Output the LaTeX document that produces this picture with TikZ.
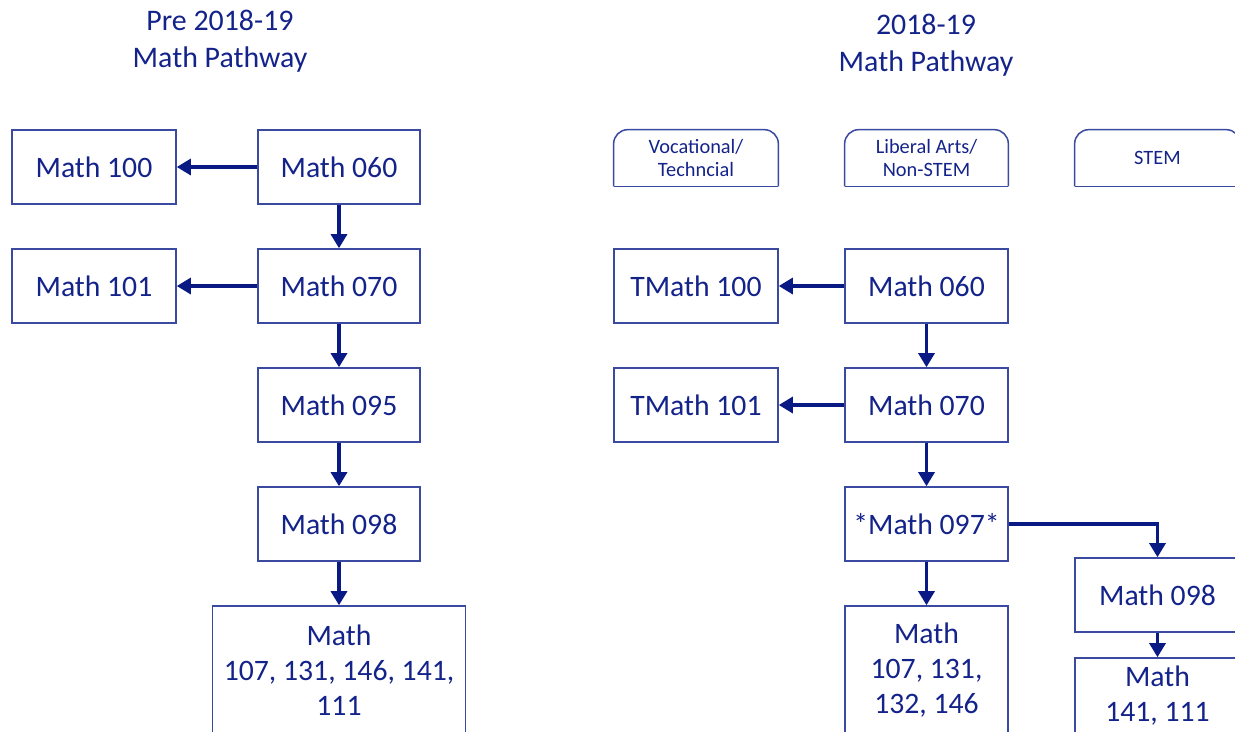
\documentclass[tikz,border=0pt]{standalone}
\usepackage{fontspec}
\setmainfont{Carlito}
\usetikzlibrary{arrows.meta}
\definecolor{txtc}{HTML}{14238A}
\definecolor{boxc}{HTML}{3A4AA0}
\definecolor{arrc}{HTML}{0A1A85}
\tikzset{
  box/.style={draw=boxc, line width=0.85pt, text=txtc, minimum width=3.28cm, minimum height=1.48cm, inner sep=0pt, align=center, font=\fontsize{16.9}{20}\selectfont},
  tabtxt/.style={text=txtc, minimum width=3.28cm, minimum height=1.12cm, inner sep=0pt, align=center, font=\fontsize{11.6}{13.6}\selectfont},
  tabline/.style={draw=boxc, line width=0.85pt},
  ttl/.style={text=txtc, align=center, font=\fontsize{17}{21}\selectfont},
  arr/.style={draw=arrc, line width=2pt, -{Triangle[width=9pt,length=8pt]}}
}
\begin{document}
\begin{tikzpicture}[x=0.02cm,y=-0.02cm]
\useasboundingbox (0,0) rectangle (1235,731);
\clip (0,0) rectangle (1235,731);
% titles
\node[ttl] (tL) at (220,41) {Pre 2018-19\\Math Pathway};
\node[ttl] (tR) at (926,45) {2018-19\\Math Pathway};
% left column
\node[box] (m100L) at (94,167) {Math 100};
\node[box, minimum width=3.24cm] (m060L) at (339,167) {Math 060};
\node[box] (m101L) at (94,286) {Math 101};
\node[box, minimum width=3.24cm] (m070L) at (339,286) {Math 070};
\node[box, minimum width=3.24cm] (m095L) at (339,405) {Math 095};
\node[box, minimum width=3.24cm] (m098L) at (339,524) {Math 098};
\node[box, minimum width=5.06cm, minimum height=2.56cm] (finL) at (339,670) {Math\\107, 131, 146, 141,\\111};
% tabs
\node[tabtxt] (tabV) at (696,158) {Vocational/\\Techncial};
\node[tabtxt, minimum width=3.26cm] (tabL) at (926.5,158) {Liberal Arts/\\Non-STEM};
\node[tabtxt, minimum width=3.3cm] (tabS) at (1157.5,158) {STEM};
\foreach \t in {tabV,tabL,tabS}{
  \draw[tabline, rounded corners=8pt] (\t.south west) -- (\t.north west) -- (\t.north east) -- (\t.south east);
  \draw[tabline] (\t.south west) -- (\t.south east);
}
% right column
\node[box] (tm100) at (696,286) {TMath 100};
\node[box, minimum width=3.26cm] (m060R) at (926.5,286) {Math 060};
\node[box] (tm101) at (696,405) {TMath 101};
\node[box, minimum width=3.26cm] (m070R) at (926.5,405) {Math 070};
\node[box, minimum width=3.26cm] (m097) at (926.5,524) {*Math 097*};
\node[box, minimum width=3.26cm, minimum height=2.56cm] (finR1) at (926.5,670) {Math\\107, 131,\\132, 146};
\node[box, minimum width=3.3cm] (m098R) at (1157.5,595) {Math 098};
\node[box, minimum width=3.3cm, minimum height=1.52cm] (finR2) at (1157.5,696) {Math\\141, 111};
% arrows left
\draw[arr] (m060L.west) -- (m100L.east);
\draw[arr] (m060L.south) -- (m070L.north);
\draw[arr] (m070L.west) -- (m101L.east);
\draw[arr] (m070L.south) -- (m095L.north);
\draw[arr] (m095L.south) -- (m098L.north);
\draw[arr] (m098L.south) -- (finL.north);
% arrows right
\draw[arr] (m060R.west) -- (tm100.east);
\draw[arr] (m060R.south) -- (m070R.north);
\draw[arr] (m070R.west) -- (tm101.east);
\draw[arr] (m070R.south) -- (m097.north);
\draw[arr] (m097.south) -- (finR1.north);
\draw[arr] (m097.east) -| (m098R.north);
\draw[arr] (m098R.south) -- (finR2.north);
\end{tikzpicture}
\end{document}
